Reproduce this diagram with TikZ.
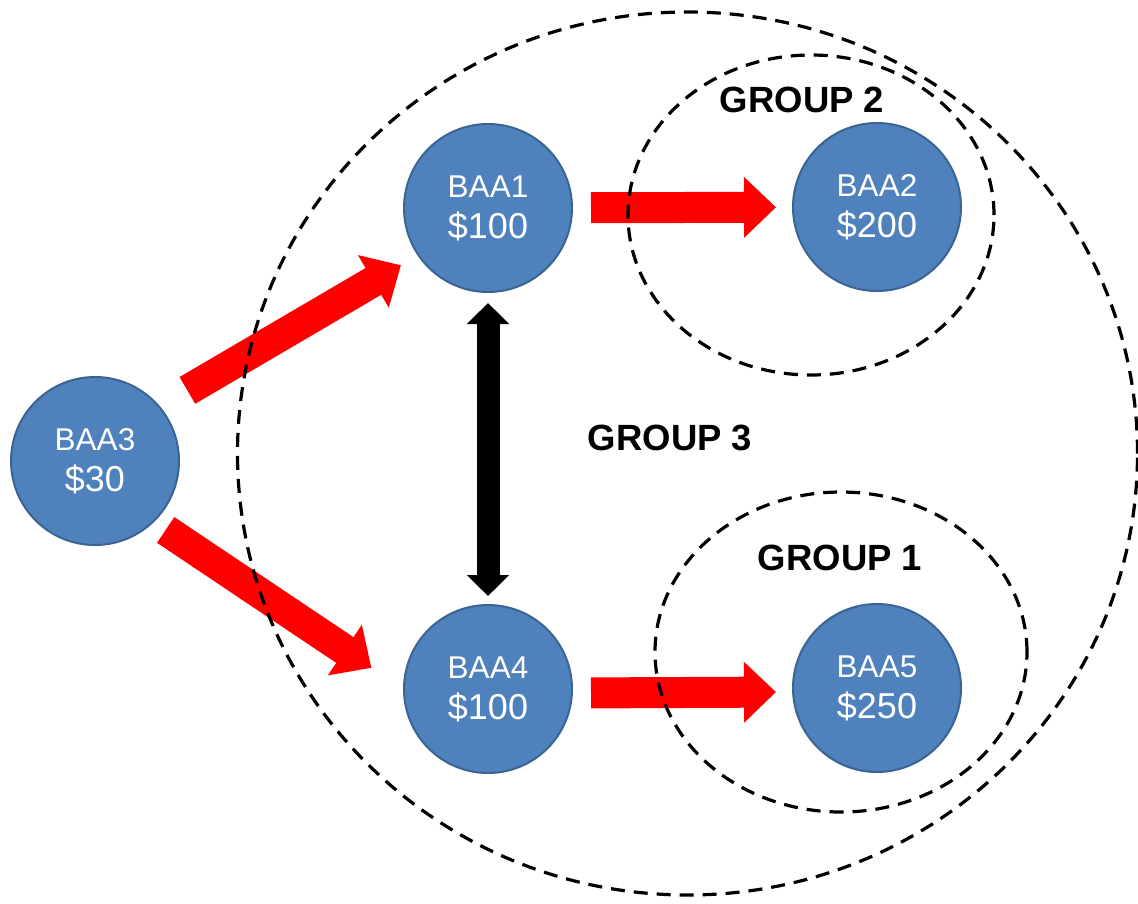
\documentclass[tikz,border=0pt]{standalone}
\usepackage{fontspec}
\setmainfont{Liberation Sans}
\usetikzlibrary{arrows.meta}
\definecolor{nodeblue}{HTML}{4F81BD}
\definecolor{nodeedge}{HTML}{3A6491}
\newcommand\twolines[2]{{\fontsize{31.5}{36}\selectfont #1}\\#2}
\begin{document}
\begin{tikzpicture}[x=1pt,y=-1pt,
  baa/.style={circle, fill=nodeblue, draw=nodeedge, line width=2pt, minimum size=168pt,
    inner sep=0pt, text=white, align=center, font=\fontsize{36}{41}\selectfont},
  grp/.style={draw=black, dash pattern=on 14pt off 9pt, line width=3.2pt},
  glabel/.style={font=\fontsize{36.5}{40}\selectfont\bfseries, inner sep=0pt},
  redarrow/.style={draw=red, line width=31pt, -{Triangle[width=59pt,length=32pt]}},
  blackarrow/.style={draw=black, line width=23pt,
    {Triangle[width=41pt,length=21pt]}-{Triangle[width=41pt,length=21pt]}}]
\useasboundingbox (0,0) rectangle (1138,903);

% nodes
\node[baa] (BAA3) at (95,461) {\twolines{BAA3}{\$30}};
\node[baa] (BAA1) at (488,208) {\twolines{BAA1}{\$100}};
\node[baa] (BAA2) at (877,207) {\twolines{BAA2}{\$200}};
\node[baa] (BAA4) at (488,689) {\twolines{BAA4}{\$100}};
\node[baa] (BAA5) at (877,688) {\twolines{BAA5}{\$250}};

% arrows
\draw[redarrow, shorten <=31.6pt, shorten >=19.2pt] (BAA3.40.4) -- (BAA1.214.3);
\draw[redarrow, shorten <=14pt, shorten >=38pt] (BAA3.-46) -- (BAA4.west);
\draw[redarrow, shorten <=18pt, shorten >=16pt] (BAA1) -- (BAA2);
\draw[redarrow, shorten <=18pt, shorten >=16pt] ([yshift=-4pt]BAA4.east) -- ([yshift=-4pt]BAA5.west);
\draw[blackarrow, shorten <=10pt, shorten >=8pt] (BAA1) -- (BAA4);

% groups
\draw[grp] (687.5,453.5) ellipse [x radius=450pt, y radius=441.5pt];
\draw[grp] (811,215) ellipse [x radius=183pt, y radius=160pt];
\draw[grp] (841,652) ellipse [x radius=186pt, y radius=160pt];

\node[glabel] (g2) at (802,100) {GROUP 2};
\node[glabel] (g3) at (670,438) {GROUP 3};
\node[glabel] (g1) at (840,558) {GROUP 1};
\end{tikzpicture}
\end{document}
